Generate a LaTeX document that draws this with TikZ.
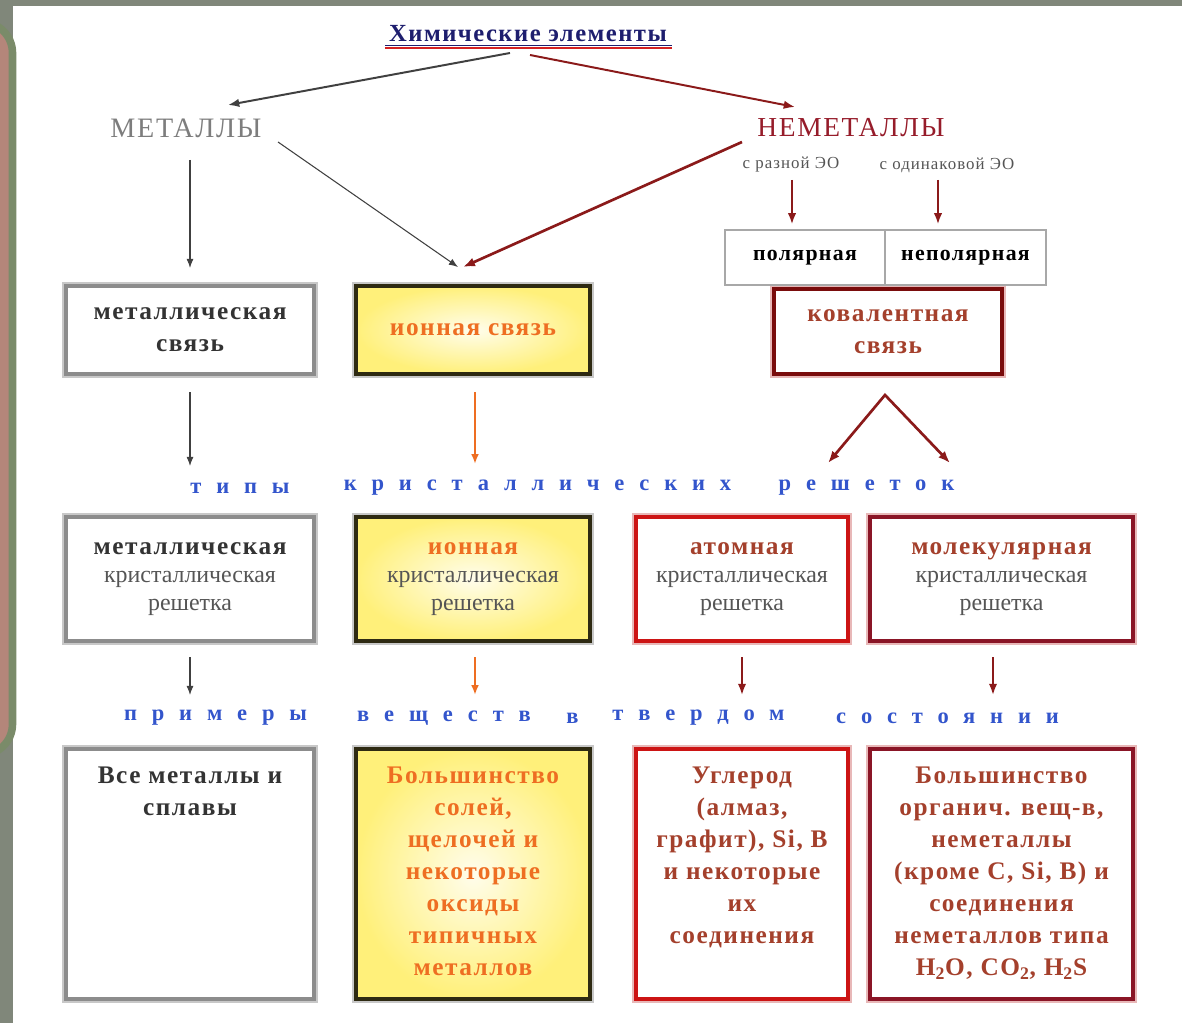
\documentclass[tikz,border=0pt]{standalone}
\usepackage{fontspec}
\setmainfont{Liberation Serif}
\newfontfamily\bsp{Liberation Serif}[LetterSpace=6]
\newfontfamily\rsp{Liberation Serif}[LetterSpace=1]
\newfontfamily\bluesp{Liberation Serif}[LetterSpace=66]
\usetikzlibrary{arrows.meta,calc}
\newcommand\pxu{0.025cm}
\definecolor{bgG}{HTML}{80877A}
\definecolor{panelR}{HTML}{B4867A}
\definecolor{panelG}{HTML}{7A8B69}
\definecolor{titleB}{HTML}{1E1E6E}
\definecolor{ulR}{HTML}{D42020}
\definecolor{metG}{HTML}{7D7D7D}
\definecolor{nemR}{HTML}{961C2A}
\definecolor{darkR}{HTML}{8B1A1A}
\definecolor{covR}{HTML}{7A0C0C}
\definecolor{frameG}{HTML}{8C8C8C}
\definecolor{frameL}{HTML}{C8C8C8}
\definecolor{ionFrame}{HTML}{2E2A12}
\definecolor{yel}{HTML}{FFF07A}
\definecolor{yelIn}{HTML}{FFFDEC}
\definecolor{orng}{HTML}{EE6E22}
\definecolor{brRed}{HTML}{A4402C}
\definecolor{atomR}{HTML}{CC1414}
\definecolor{molR}{HTML}{8A1526}
\definecolor{pinkL}{HTML}{E8B8B8}
\definecolor{blueT}{HTML}{3355CC}
\definecolor{txtD}{HTML}{333333}
\definecolor{txtG}{HTML}{555555}
\definecolor{cellG}{HTML}{A8A8A8}
\tikzset{
  boxbase/.style={inner sep=0pt, outer sep=0pt, align=center, line width=2.85pt},
  grayframe/.style={boxbase, draw=frameG, fill=white, preaction={draw=frameL, line width=5.6pt}},
  yelframe/.style={boxbase, draw=ionFrame, shade, shading=radial, inner color=yelIn, outer color=yel, preaction={draw=frameL, line width=5.6pt}},
  atomframe/.style={boxbase, draw=atomR, fill=white, preaction={draw=pinkL, line width=5.6pt}},
  molframe/.style={boxbase, draw=molR, fill=white, preaction={draw=pinkL, line width=5.6pt}},
  covframe/.style={boxbase, draw=covR, fill=white, preaction={draw=pinkL, line width=5.6pt}},
  cell/.style={draw=cellG, line width=0.9pt, fill=white, inner sep=0pt, minimum height=55*\pxu, font=\bsp\bfseries\fontsize{15.5}{17}\selectfont, text=black},
  plain/.style={inner sep=0pt, outer sep=0pt},
  boldtxt/.style={font=\bsp\bfseries\fontsize{18}{22.8}\selectfont},
  lattxt/.style={font=\fontsize{17}{20}\selectfont},
  t4/.style={plain, align=center, anchor=north, font=\bsp\bfseries\fontsize{18}{22.8}\selectfont},
  bluew/.style={plain, text=blueT, font=\bluesp\bfseries\fontsize{16}{18}\selectfont},
  arrThin/.style={draw=black!75, line width=0.75pt, -{Latex[length=6.5pt,width=5pt]}},
  arrDK/.style={draw=black!75, line width=1.4pt, -{Latex[length=8pt,width=6pt]}},
  arrDR/.style={draw=darkR, line width=1.4pt, -{Latex[length=8pt,width=6pt]}},
  arrThickR/.style={draw=darkR, line width=1.9pt, -{Latex[length=8.5pt,width=6.5pt]}},
  arrOr/.style={draw=orng, line width=1.4pt, -{Latex[length=7pt,width=5.5pt]}},
}
\newcommand\latB[2]{{\color{#1}\bsp\bfseries\fontsize{18}{20}\selectfont #2}}
\newcommand\latR[1]{{\color{txtG}\rmfamily\fontsize{17}{20}\selectfont #1}}
\begin{document}
\begin{tikzpicture}[x=0.025cm, y=-0.025cm]
\useasboundingbox (0,0) rectangle (1182,1023);
% background
\fill[bgG] (0,0) rectangle (1182,1023);
\fill[white] (13,6) rectangle (1182,1023);
\draw[panelG, line width=5.4pt, fill=panelR, rounded corners=22pt] (-60,22) rectangle (12.5,755);

% title
\node[plain, text=titleB, font=\bsp\bfseries\fontsize{17.5}{19}\selectfont] (title) at (528,34) {Химические элементы};
\draw[titleB, line width=0.6pt] ($(title)+(-143,11.5)$) -- ($(title)+(144,11.5)$);
\draw[ulR, line width=1.6pt] ($(title)+(-143,14)$) -- ($(title)+(144,14)$);

\node[plain, text=metG, font=\bsp\fontsize{20}{22}\selectfont] (metally) at (186,128) {МЕТАЛЛЫ};
\node[plain, text=nemR, font=\bsp\fontsize{19.5}{22}\selectfont] (nemet) at (851,128) {НЕМЕТАЛЛЫ};
\node[plain, text=txtG, font=\bsp\fontsize{12}{14}\selectfont] (raz) at (791,165) {с разной ЭО};
\node[plain, text=txtG, font=\bsp\fontsize{12}{14}\selectfont] (odin) at (947,165) {с одинаковой ЭО};

% row 1
\node[grayframe, minimum width=248*\pxu, minimum height=88*\pxu, text=txtD, boldtxt] (metbond) at (190,330) {металлическая\\связь};
\node[yelframe, minimum width=234*\pxu, minimum height=88*\pxu, text=orng, boldtxt] (ionbond) at (473,330) {ионная связь};
\node[covframe, minimum width=228*\pxu, minimum height=85*\pxu, text=brRed, boldtxt] (covbond) at (888,331.5) {ковалентная\\связь};
\node[cell, minimum width=160*\pxu] (polar) at (805,257.5) {полярная};
\node[cell, minimum width=161*\pxu] (nonpolar) at (965.5,257.5) {неполярная};

% blue line 1
\node[bluew] (ty1) at (240,488) {типы};
\node[bluew] (ty2) at (537.5,488) {кристаллических};
\node[bluew] (ty3) at (866.5,488) {решеток};

% row 3
\node[grayframe, minimum width=248*\pxu, minimum height=124*\pxu, lattxt] (metlat) at (190,579)
  {\latB{txtD}{металлическая}\\\latR{кристаллическая}\\\latR{решетка}};
\node[yelframe, minimum width=234*\pxu, minimum height=124*\pxu, lattxt] (ionlat) at (473,579)
  {\latB{orng}{ионная}\\\latR{кристаллическая}\\\latR{решетка}};
\node[atomframe, minimum width=212*\pxu, minimum height=124*\pxu, lattxt] (atomlat) at (742,579)
  {\latB{brRed}{атомная}\\\latR{кристаллическая}\\\latR{решетка}};
\node[molframe, minimum width=263*\pxu, minimum height=124*\pxu, lattxt] (mollat) at (1001.5,579)
  {\latB{brRed}{молекулярная}\\\latR{кристаллическая}\\\latR{решетка}};

% blue line 2
\node[bluew] (ex1) at (215.5,718) {примеры};
\node[bluew] (ex2) at (444,718) {веществ};
\node[bluew] (ex3) at (572.5,718) {в};
\node[bluew] (ex4) at (698.5,718) {твердом};
\node[bluew] (ex5) at (947.5,718) {состоянии};

% row 4
\node[grayframe, minimum width=248*\pxu, minimum height=250*\pxu] (metex) at (190,874) {};
\node[yelframe, minimum width=234*\pxu, minimum height=250*\pxu] (ionex) at (473,874) {};
\node[atomframe, minimum width=212*\pxu, minimum height=250*\pxu] (atomex) at (742,874) {};
\node[molframe, minimum width=263*\pxu, minimum height=250*\pxu] (molex) at (1001.5,874) {};
\node[t4, text=txtD] (metextxt) at (190,767) {Все металлы и\\сплавы};
\node[t4, text=orng] (ionextxt) at (473,767) {Большинство\\солей,\\щелочей и\\некоторые\\оксиды\\типичных\\металлов};
\node[t4, text=brRed] (atomextxt) at (742,767) {Углерод\\(алмаз,\\графит), Si, B\\и некоторые\\их\\соединения};
\node[t4, text=brRed] (molextxt) at (1001.5,767) {Большинство\\органич. вещ-в,\\неметаллы\\(кроме C, Si, B) и\\соединения\\неметаллов типа\\H\textsubscript{2}O, CO\textsubscript{2}, H\textsubscript{2}S};

% connectors
\draw[arrDK] ($(title)+(-18,19)$) -- ($(metally)+(42,-23)$);
\draw[arrDR] ($(title)+(2,21)$) -- ($(nemet)+(-56,-21)$);
\draw[arrThin] ($(metally)+(4,32)$) -- ($(metbond.north)+(0,-18)$);
\draw[arrThin] ($(metally)+(92,14)$) -- ($(ionbond.north)+(-15,-19)$);
\draw[arrThickR] ($(nemet)+(-109,14)$) -- ($(ionbond.north)+(-10,-19)$);
\draw[arrDR] ($(raz)+(1,15)$) -- ($(polar.north)+(-13,-5)$);
\draw[arrDR] ($(odin)+(-9,15)$) -- ($(nonpolar.north)+(-27.5,-5)$);
\draw[arrThin] ($(metbond.south)+(0,18)$) -- ($(metlat.north)+(0,-51)$);
\draw[arrOr] ($(ionbond.south)+(2,18)$) -- ($(ionlat.north)+(2,-53)$);
\draw[darkR, line width=1.9pt, line join=miter, {Latex[length=8.5pt,width=6.5pt]}-{Latex[length=8.5pt,width=6.5pt]}]
  ($(atomlat.north)+(86,-54)$) -- ($(covbond.south)+(-3,21)$) -- ($(mollat.north)+(-51.5,-54)$);
\draw[arrThin] ($(metlat.south)+(0,16)$) -- ($(metex.north)+(0,-54)$);
\draw[arrOr] ($(ionlat.south)+(2,16)$) -- ($(ionex.north)+(2,-54)$);
\draw[arrDR] ($(atomlat.south)+(0,16)$) -- ($(atomex.north)+(0,-54)$);
\draw[arrDR] ($(mollat.south)+(-8.5,16)$) -- ($(molex.north)+(-8.5,-54)$);
\end{tikzpicture}
\end{document}
